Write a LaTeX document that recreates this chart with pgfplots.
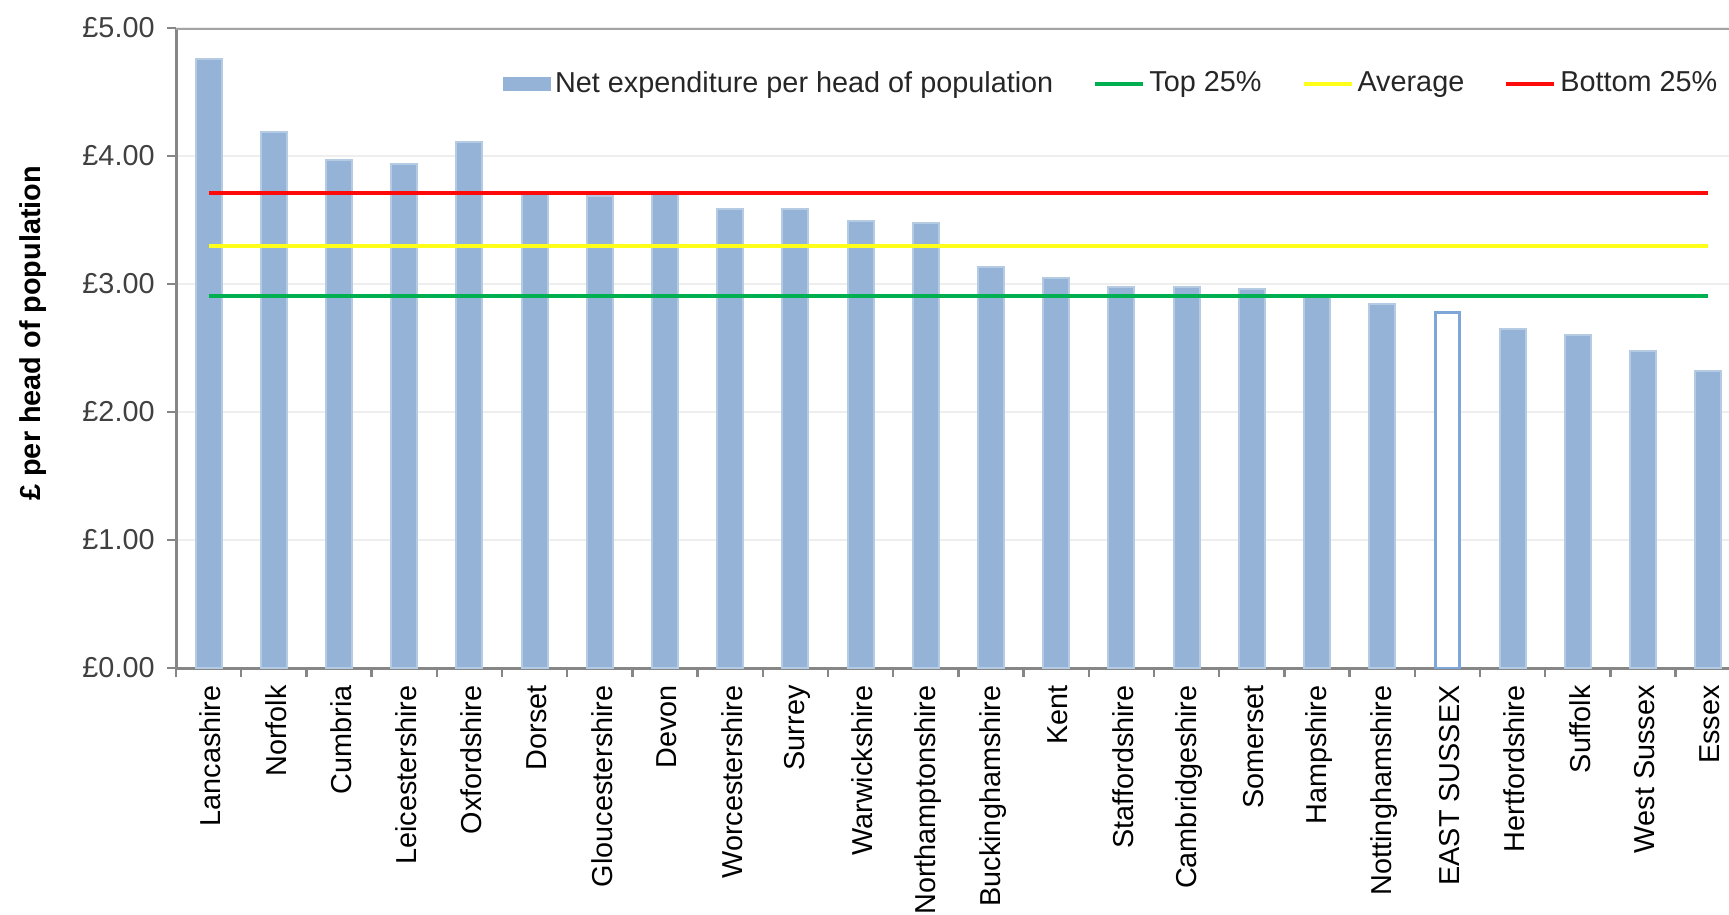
\documentclass[border=0pt]{standalone}
\usepackage{pgfplots}
\pgfplotsset{compat=1.18}
\usepackage{pgfplotstable}
\usepackage{fontspec}
\setmainfont{Liberation Sans}

\definecolor{barblue}{HTML}{95B3D7}
\definecolor{barline}{HTML}{7FA6D8}
\definecolor{topgreen}{HTML}{00B050}
\definecolor{avgyellow}{HTML}{FFFF1A}
\definecolor{botred}{HTML}{FF0A0A}
\definecolor{axisgrey}{HTML}{868686}
\definecolor{gridgrey}{HTML}{EEEEEE}

% net expenditure per head, in chart order (EAST SUSSEX at 19 is drawn on its own)
\pgfplotstableread{
idx value
0  4.76
1  4.19
2  3.97
3  3.94
4  4.11
5  3.70
6  3.69
7  3.70
8  3.59
9  3.59
10 3.49
11 3.48
12 3.13
13 3.05
14 2.98
15 2.98
16 2.96
17 2.91
18 2.84
20 2.65
21 2.60
22 2.48
23 2.32
}\spend

\newcommand{\chartfont}{\fontsize{8.2}{9.5}\selectfont}

\begin{document}
\begin{tikzpicture}
\begin{axis}[
  at={(1.76cm,2.46cm)}, anchor=south west,
  width=15.53cm, height=6.40cm, scale only axis,
  xmin=-0.5, xmax=23.32,
  ymin=0, ymax=5,
  axis x line*=bottom, axis y line*=left,
  axis line style={draw=axisgrey, line width=0.3mm, -},
  tick align=outside,
  tick style={draw=axisgrey, line width=0.25mm},
  major tick length=0.9mm,
  ytick={0,1,2,3,4,5},
  yticklabels={£0.00,£1.00,£2.00,£3.00,£4.00,£5.00},
  yticklabel style={font=\chartfont, text=black!75},
  ymajorgrids,
  grid style={draw=gridgrey, line width=0.25mm},
  xtick={-0.5,0.5,...,23.5},
  xticklabels={},
  extra x ticks={0,1,...,23},
  extra x tick labels={Lancashire,Norfolk,Cumbria,Leicestershire,Oxfordshire,Dorset,Gloucestershire,Devon,Worcestershire,Surrey,Warwickshire,Northamptonshire,Buckinghamshire,Kent,Staffordshire,Cambridgeshire,Somerset,Hampshire,Nottinghamshire,EAST SUSSEX,Hertfordshire,Suffolk,West Sussex,Essex},
  extra x tick style={major tick length=0pt, grid=none,
    xticklabel style={rotate=90, anchor=east, xshift=-0.5mm, yshift=-0.2mm, font=\chartfont, text=black}},
  ylabel={\bfseries £ per head of population},
  ylabel style={at={(axis description cs:-0.092,0.523)}, anchor=center, font=\chartfont},
  legend columns=-1,
  legend style={draw=none, fill=none, at={(0.9955,0.912)}, anchor=east,
    inner sep=0pt, font=\chartfont, text=black!85,
    nodes={inner sep=0.4mm},
    /tikz/every even column/.append style={column sep=3.6mm}},
]
\addplot[ybar, bar width=0.4, bar shift=0pt, fill=barblue, draw=barblue!70!white, line width=0.2mm,
  legend image code/.code={\fill[barblue] (0mm,-0.6mm) rectangle (4.6mm,0.6mm);}]
  table[x=idx, y=value] {\spend};
\addplot[ybar, bar width=0.37, bar shift=0pt, fill=white, draw=barline, line width=0.3mm, forget plot]
  coordinates {(19,2.78)};
\addplot[topgreen, line width=0.4mm,
  legend image code/.code={\draw[line width=0.4mm] (0mm,0mm) -- (4.8mm,0mm);}]
  coordinates {(0,2.91) (23,2.91)};
\addplot[avgyellow, line width=0.4mm,
  legend image code/.code={\draw[line width=0.4mm] (0mm,0mm) -- (4.8mm,0mm);}]
  coordinates {(0,3.30) (23,3.30)};
\addplot[botred, line width=0.4mm,
  legend image code/.code={\draw[line width=0.4mm] (0mm,0mm) -- (4.8mm,0mm);}]
  coordinates {(0,3.71) (23,3.71)};
\legend{Net expenditure per head of population,Top 25\%,Average,Bottom 25\%}
\draw[draw=axisgrey!75, line width=0.3mm] (rel axis cs:0,1) -- (rel axis cs:1,1);
\end{axis}
\pgfresetboundingbox
\path[use as bounding box] (0,0) rectangle (17.29cm,9.14cm);
\end{tikzpicture}
\end{document}
